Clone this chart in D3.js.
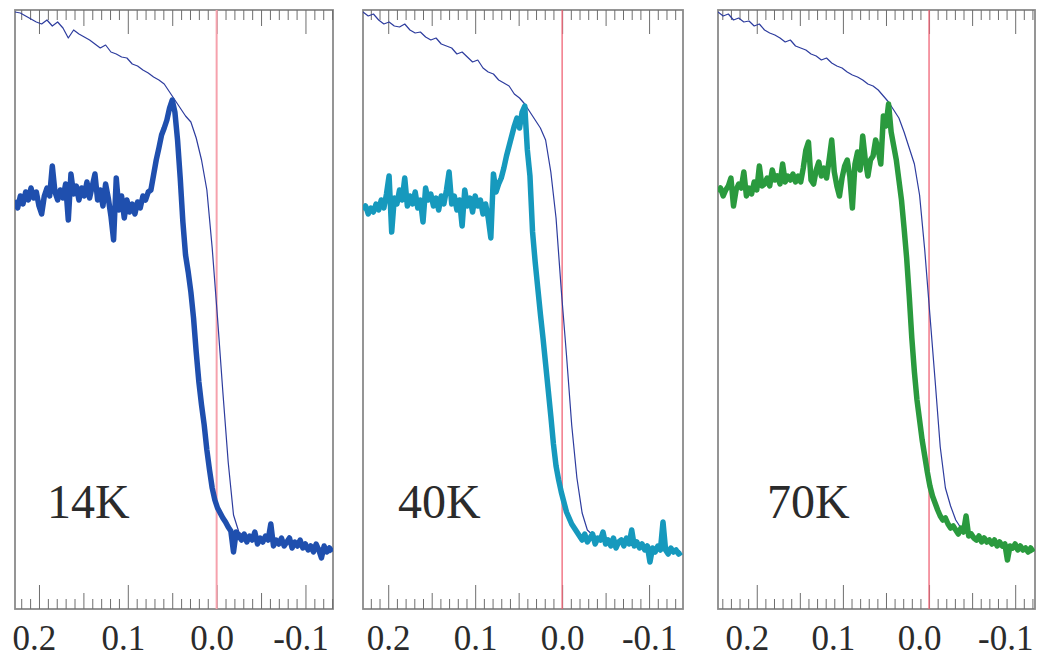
<!DOCTYPE html>
<html><head><meta charset="utf-8">
<script src="https://cdn.jsdelivr.net/npm/d3@7"></script>
<style>body{margin:0;background:#fff}svg{display:block}</style>
</head><body><svg id="c" width="1038" height="659"></svg>
<script>
// ---------------- data ----------------
const temperatures = ["14K", "40K", "70K"];
const xTickLabels = [0.2, 0.1, 0.0, -0.1];
const energyStart = [0.227, 0.229, 0.245];   // eV, left edge of each panel
const energyEnd = [-0.131, -0.139, -0.123];  // eV, right edge of each panel
const sampleStep = 0.003;     // eV between points of the sample spectra
const referenceStep = 0.006;  // eV between points of the reference edge

const sample14K = [409,401,413,405,417,409,421,411,417,403,395,413,421,413,443,417,409,419,411,425,
  389,435,415,423,409,421,413,427,411,423,435,409,419,403,425,411,393,369,431,399,
  413,391,409,397,405,395,407,401,413,409,417,419,434,449,461,474,481,489,501,509,
  497,469,431,387,354,337,317,291,257,227,204,184,159,139,121,109,101,96,91,87,
  82,78,57,77,73,69,75,67,73,69,77,65,71,67,73,69,85,63,69,65,
  71,63,67,71,61,67,63,69,61,65,59,63,57,65,59,51,63,57,61,57];
const reference14K = [597,596,593,590,587,585,589,583,587,581,571,579,575,572,569,565,561,564,557,555,
  552,551,545,543,539,536,532,529,525,517,509,501,493,487,471,449,419,361,291,217,
  147,94,77,73,71,73,69,71,69,67,69,67,65,67,65,63,63,61,61,59,59];

const sample40K = [399,403,395,401,397,405,399,409,401,415,433,377,411,405,419,409,431,403,413,405,
  417,401,409,387,421,409,415,403,411,399,413,405,419,437,405,413,399,409,383,419,
  403,411,397,413,403,409,395,405,391,371,435,417,425,431,441,453,463,473,483,491,
  481,497,503,459,433,377,347,321,295,271,245,219,193,165,143,129,117,107,97,91,
  85,81,77,73,69,75,67,71,75,65,71,69,77,65,69,63,71,61,67,69,
  63,71,65,79,63,67,61,65,59,63,47,61,57,63,59,87,59,55,61,57,59,55,57];
const reference40K = [597,593,595,589,585,587,583,582,585,579,576,577,572,569,571,565,563,561,555,557,
  552,547,549,541,537,535,529,526,523,515,511,505,497,489,481,469,437,391,319,254,
  184,131,96,79,74,72,71,69,68,66,66,64,63,62,61,60,59,59,58,58,57,57];

const sample70K = [417,421,413,419,423,431,403,419,425,421,437,413,421,415,427,419,443,423,425,431,
  423,439,429,433,425,445,427,433,429,435,427,433,427,441,459,467,429,425,439,447,
  433,441,431,449,469,437,423,413,431,443,449,433,401,445,457,439,473,449,433,449,
  453,469,459,445,493,483,505,477,463,449,429,409,381,351,313,271,237,209,189,169,
  153,137,123,113,106,99,93,89,91,85,81,83,79,75,81,77,93,73,75,71,
  69,73,67,71,67,69,65,69,63,67,63,65,49,63,61,65,59,63,59,61,57,61,57];
const reference70K = [597,593,595,589,591,587,588,583,585,579,576,574,571,567,569,563,561,559,555,553,
  549,551,546,543,541,537,534,532,529,525,523,519,513,507,499,491,477,461,445,414,
  359,294,229,162,121,103,89,81,77,75,72,70,69,67,66,65,64,63,61,60,59,58];

const sampleSeries = [sample14K, sample40K, sample70K];
const referenceSeries = [reference14K, reference40K, reference70K];

// ---------------- layout / style ----------------
const layout = [
  {left: 15, right: 333, labelDx: -5, tempX: 32, color: "#1f4fae", zeroColor: "#f6a2ad", zeroW: 2},
  {left: 363, right: 683, labelDx: 0, tempX: 35, color: "#1699bd", zeroColor: "#f06476", zeroW: 1.3},
  {left: 718, right: 1035, labelDx: -10, tempX: 49, color: "#2a9a3e", zeroColor: "#f06476", zeroW: 1.3}
];
const plotTop = 10, plotBottom = 609;
const refColor = "#2d3c9e";

const svg = d3.select("#c");
const yScale = d3.scaleLinear().domain([0, 600]).range([plotBottom, plotTop - 1]);

temperatures.forEach((temp, p) => {
  const L = layout[p];
  const x = d3.scaleLinear().domain([energyStart[p], energyEnd[p]]).range([L.left, L.right]);
  const g = svg.append("g");
  const clipId = "clip" + p;
  svg.append("clipPath").attr("id", clipId).append("rect")
    .attr("x", L.left).attr("y", plotTop).attr("width", L.right - L.left).attr("height", plotBottom - plotTop);

  // frame
  g.append("rect").attr("x", L.left).attr("y", plotTop).attr("width", L.right - L.left).attr("height", plotBottom - plotTop)
    .attr("fill", "none").attr("stroke", "#8a8a8a").attr("stroke-width", 1.8);

  // ticks
  const kMin = Math.ceil(energyEnd[p] * 100 - 1e-9), kMax = Math.floor(energyStart[p] * 100 + 1e-9);
  const tickVals = d3.range(kMin, kMax + 1).map(k => k / 100);
  const tlen = d => {
    const k = Math.round(d * 100);
    return k % 10 === 0 ? 24 : (k % 5 === 0 ? 16 : 10);
  };
  const bot = g.append("g").attr("transform", `translate(0,${plotBottom})`)
    .call(d3.axisBottom(x).tickValues(tickVals).tickSize(0).tickFormat(""));
  bot.select(".domain").remove();
  bot.selectAll(".tick line").attr("y2", d => -tlen(d)).attr("stroke", "#6e6e6e").attr("stroke-width", 1);
  const tp = g.append("g").attr("transform", `translate(0,${plotTop})`)
    .call(d3.axisTop(x).tickValues(tickVals).tickSize(0).tickFormat(""));
  tp.select(".domain").remove();
  tp.selectAll(".tick line").attr("y2", d => tlen(d)).attr("stroke", "#6e6e6e").attr("stroke-width", 1);

  // tick labels
  const lab = g.append("g").attr("transform", `translate(0,${plotBottom})`)
    .call(d3.axisBottom(x).tickValues(xTickLabels).tickSize(0).tickPadding(0).tickFormat(d => d.toFixed(1)));
  lab.select(".domain").remove();
  lab.selectAll(".tick text")
    .attr("font-family", "'Liberation Serif', 'Times New Roman', serif")
    .attr("font-size", 35).attr("fill", "#2b2b2b")
    .attr("dx", L.labelDx).attr("dy", 0).attr("y", 41);

  // zero line
  g.append("line").attr("x1", x(0)).attr("x2", x(0)).attr("y1", plotTop).attr("y2", plotBottom)
    .attr("stroke", L.zeroColor).attr("stroke-width", L.zeroW);

  const plot = g.append("g").attr("clip-path", `url(#${clipId})`);

  // reference edge (thin)
  const refE = referenceSeries[p].map((v, i) => [energyStart[p] - i * referenceStep, v]);
  plot.append("path").datum(refE)
    .attr("fill", "none").attr("stroke", refColor).attr("stroke-width", 1.2).attr("stroke-linejoin", "round")
    .attr("d", d3.line().x(d => x(d[0])).y(d => yScale(d[1])));

  // sample spectrum (thick)
  const smp = sampleSeries[p].map((v, i) => [energyStart[p] - i * sampleStep, v]);
  plot.append("path").datum(smp)
    .attr("fill", "none").attr("stroke", L.color).attr("stroke-width", 5.5).attr("stroke-linejoin", "round")
    .attr("d", d3.line().x(d => x(d[0])).y(d => yScale(d[1])));

  // temperature label
  g.append("text").attr("x", L.left + L.tempX).attr("y", 518)
    .attr("font-family", "'Liberation Serif', 'Times New Roman', serif")
    .attr("font-size", 48).attr("fill", "#2b2b2b").text(temp);
});
</script>
</body></html>
